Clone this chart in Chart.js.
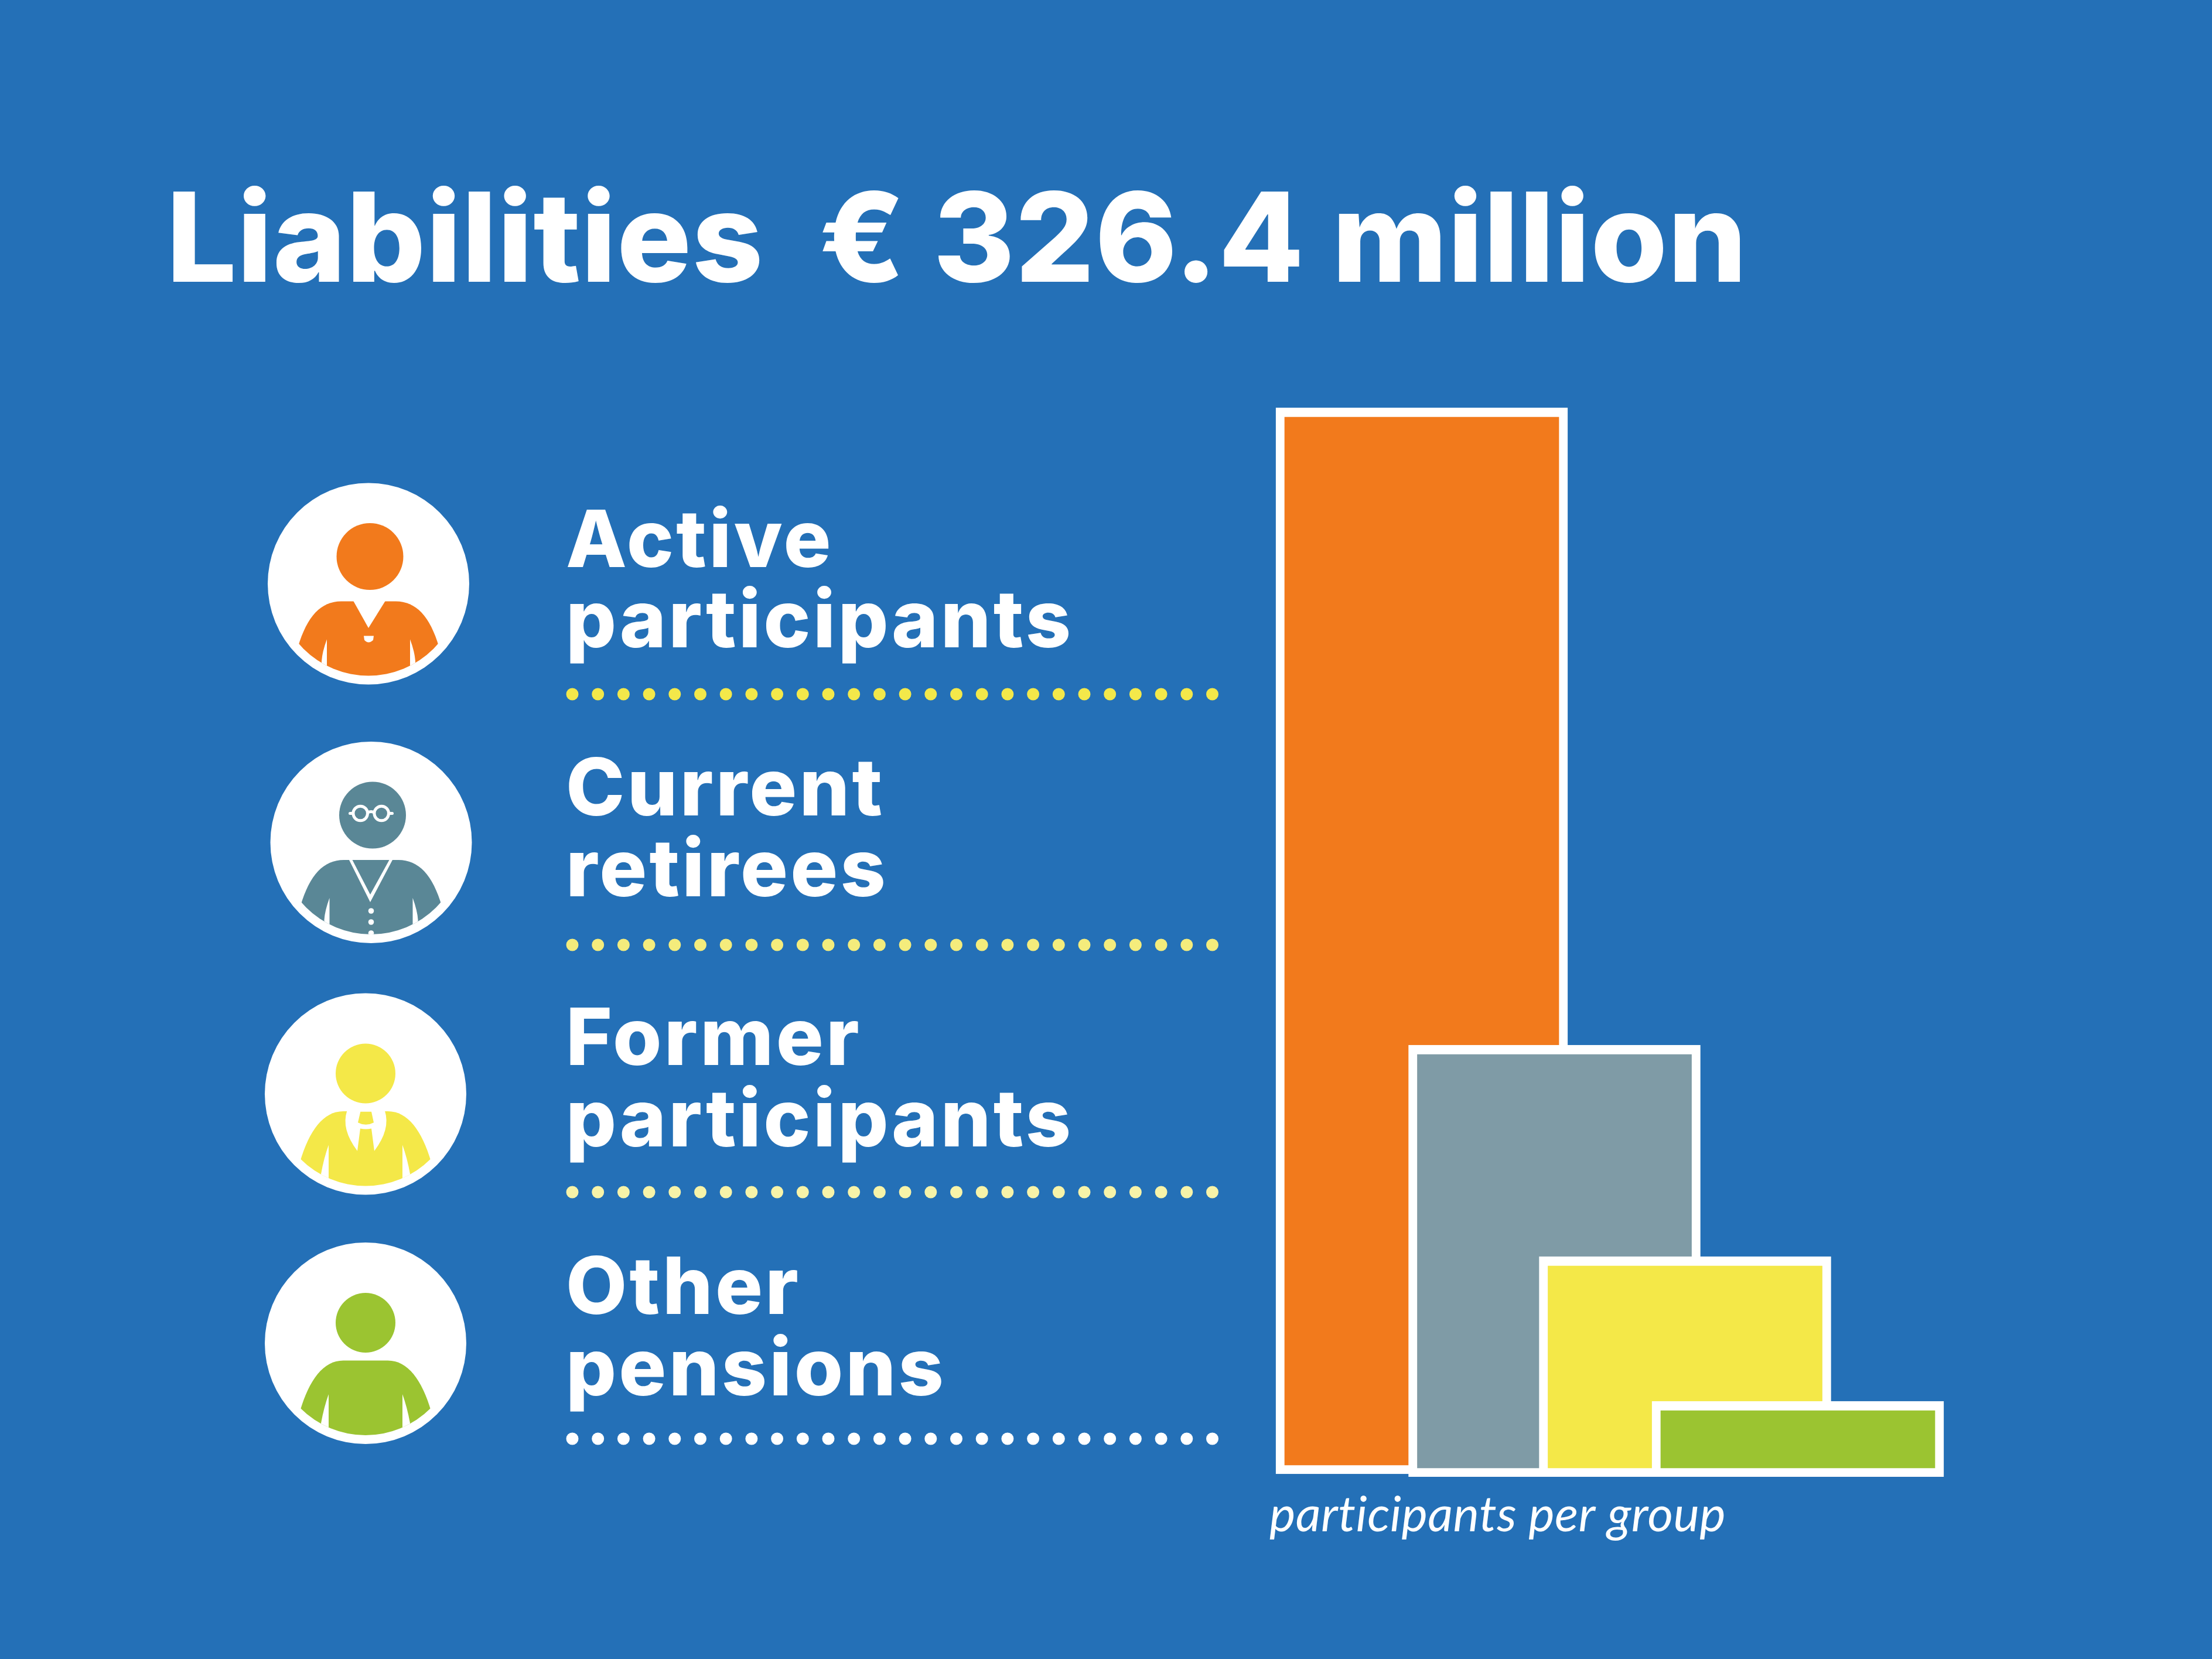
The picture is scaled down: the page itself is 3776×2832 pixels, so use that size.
<!DOCTYPE html>
<html><head><meta charset="utf-8">
<style>html,body{margin:0;padding:0;background:#2470B7}canvas{display:block}</style>
<script src="https://cdn.jsdelivr.net/npm/chart.js@4"></script>
</head><body>
<canvas id="c" width="3776" height="2832"></canvas>
<script>
const titleText = "Liabilities  € 326.4 million";
const categories = ["Active participants","Current retirees","Former participants","Other pensions"];
const categoryLines = [["Active","participants"],["Current","retirees"],["Former","participants"],["Other","pensions"]];
const axisCaption = "participants per group";
const barPositions = [260, 486.5, 709.5, 902];
const barBases = [5, 0, 0, 0];
const barTops = [1825, 737, 376, 129];
const barColors = ["#F27A1C","#7F9BA6","#F4E848","#9BC431"];
const iconColors = ["#F27A1C","#5A8796","#F4E848","#9BC431"];
const dotColors = ["#F3E84A","#F4EC7C","#F7F3A8","#FFFFFF"];

const WHITE="#FFFFFF";
const iconSpots=[[629,996.5],[633.5,1438],[624,1867.5],[624,2293]];
const iconVariant=[0,0,1,1];
const labelBaselines=[[968,1105],[1392,1530],[1818,1957],[2243,2382]];
const dotRows=[1185,1613,2035,2456];

function drawBody(ctx,v,color){
  const tipX=v?110:118.7, tipY=v?110:102.7, pitX=v?63:71, pitY=v?87:94.7, top=v?29.5:30;
  const wedgeX=v?76:80, wedgeY=v?136.5:132;
  ctx.save();
  ctx.beginPath();ctx.arc(0,0,157,0,Math.PI*2);ctx.clip();
  ctx.fillStyle=color;
  ctx.beginPath();
  ctx.moveTo(-tipX-2,tipY+6);
  ctx.bezierCurveTo(-tipX+14,tipY-48,-tipX+38,top,-tipX+72,top);
  ctx.lineTo(tipX-72,top);
  ctx.bezierCurveTo(tipX-38,top,tipX-14,tipY-48,tipX+2,tipY+6);
  ctx.lineTo(tipX+2,200);ctx.lineTo(-tipX-2,200);ctx.closePath();ctx.fill();
  ctx.fillStyle=WHITE;
  [-1,1].forEach(s=>{
    ctx.beginPath();
    ctx.moveTo(s*pitX,pitY);
    ctx.quadraticCurveTo(s*(pitX+8),pitY+22,s*wedgeX,wedgeY);
    ctx.lineTo(s*wedgeX,200);ctx.lineTo(s*pitX,200);ctx.closePath();ctx.fill();
  });
  ctx.restore();
}
function poly(ctx,pts,color){ctx.fillStyle=color;ctx.beginPath();pts.forEach((p,i)=>i?ctx.lineTo(p[0],p[1]):ctx.moveTo(p[0],p[1]));ctx.closePath();ctx.fill();}
function drawIcon(ctx,i){
  const [cx,cy]=iconSpots[i],col=iconColors[i],v=iconVariant[i];
  ctx.save();ctx.translate(cx,cy);
  ctx.fillStyle=WHITE;ctx.beginPath();ctx.arc(0,0,172,0,Math.PI*2);ctx.fill();
  drawBody(ctx,v,col);
  const hx=v?0:2.5,hy=v?-35:-46.5,hr=v?51:57;
  ctx.fillStyle=col;ctx.beginPath();ctx.arc(hx,hy,hr,0,Math.PI*2);ctx.fill();
  if(i===0){
    poly(ctx,[[-26,29],[29,29],[0,75.6]],WHITE);
    ctx.fillStyle=WHITE;ctx.beginPath();ctx.moveTo(-8,89);ctx.lineTo(9,89);ctx.lineTo(8,96);ctx.quadraticCurveTo(0,104,-7,96);ctx.closePath();ctx.fill();
  }
  if(i===1){
    poly(ctx,[[-38,29],[37,29],[-1.5,102]],WHITE);
    poly(ctx,[[-32,30],[31,30],[-1.5,89]],col);
    ctx.fillStyle=WHITE;
    [117,136].forEach(y=>{ctx.beginPath();ctx.arc(0,y,4.8,0,Math.PI*2);ctx.fill();});
    ctx.save();ctx.beginPath();ctx.arc(0,0,157,0,Math.PI*2);ctx.clip();ctx.beginPath();ctx.arc(0,155,4.8,0,Math.PI*2);ctx.fill();ctx.restore();
    ctx.strokeStyle=WHITE;ctx.lineWidth=5;ctx.lineCap="round";
    ctx.beginPath();ctx.arc(-18.3,-49.5,12.3,0,Math.PI*2);ctx.stroke();
    ctx.beginPath();ctx.arc(17.7,-49.5,12.3,0,Math.PI*2);ctx.stroke();
    ctx.beginPath();ctx.moveTo(-5.5,-51);ctx.quadraticCurveTo(0,-54,5,-51);ctx.stroke();
    ctx.beginPath();ctx.moveTo(-36,-49.5);ctx.lineTo(-31,-49.5);ctx.moveTo(30.5,-49.5);ctx.lineTo(36,-49.5);ctx.stroke();
  }
  if(i===2){
    ctx.fillStyle=WHITE;ctx.beginPath();
    ctx.moveTo(-31.7,29);ctx.quadraticCurveTo(-42,60,-14,97.2);
    ctx.lineTo(-9,58.9);ctx.quadraticCurveTo(0.5,61,10,58.9);ctx.lineTo(15,97.2);
    ctx.quadraticCurveTo(43,60,33,29);ctx.closePath();ctx.fill();
    ctx.fillStyle=col;ctx.beginPath();
    ctx.moveTo(-8.7,30.3);ctx.lineTo(10,30.3);ctx.lineTo(14,48.7);ctx.quadraticCurveTo(0.5,56,-13,48.7);ctx.closePath();ctx.fill();
  }
  ctx.restore();
}
function fitSpacing(ctx,text,width){
  ctx.letterSpacing="0px";
  const w=ctx.measureText(text).width;
  return ((width-w)/(text.length-1)).toFixed(2)+"px";
}
const decor={id:"decor",
  beforeDraw(chart){ chart.ctx.letterSpacing="0.4px"; },
  beforeDatasetsDraw(chart){
    const ctx=chart.ctx;
    ctx.save();
    ctx.fillStyle=WHITE;ctx.textBaseline="alphabetic";ctx.textAlign="left";
    ctx.font='800 212px Inter';
    ctx.letterSpacing=fitSpacing(ctx,titleText,2698);
    ctx.fillText(titleText,284,481);
    ctx.font='800 135px Inter';
    ctx.letterSpacing=fitSpacing(ctx,"participants",862);
    categoryLines.forEach((ls,i)=>{
      ls.forEach((t,j)=>ctx.fillText(t,966,labelBaselines[i][j]));
    });
    ctx.letterSpacing="0px";
    dotRows.forEach((y,i)=>{
      ctx.fillStyle=dotColors[i];
      for(let k=0;k<26;k++){ctx.beginPath();ctx.arc(977+k*43.7,y,10.5,0,Math.PI*2);ctx.fill();}
    });
    categories.forEach((c,i)=>drawIcon(ctx,i));
    ctx.restore();
  }
};
new Chart(document.getElementById("c"),{
  type:"bar",
  data:{datasets:[{
    label:"participants per group",
    data:barPositions.map((x,i)=>({x:x,y:[barBases[i],barTops[i]]})),
    backgroundColor:barColors,
    borderColor:WHITE,
    borderWidth:{top:16,left:15,right:15,bottom:15},
    borderSkipped:false,
    barThickness:498
  }]},
  options:{
    responsive:false,animation:false,
    layout:{padding:{left:2167,right:409,top:521,bottom:195}},
    plugins:{legend:{display:false},tooltip:{enabled:false},title:{display:false}},
    scales:{
      x:{type:"linear",min:0,max:1200,offset:false,
         afterFit(s){s.height=116;},
         grid:{display:false},border:{display:false},ticks:{display:false},
         title:{display:true,text:axisCaption,align:"start",color:WHITE,padding:{top:0,bottom:0},
                font:{family:"Lato",size:84,style:"italic",weight:"400"}}},
      y:{display:false,min:0,max:2000}
    }
  },
  plugins:[decor]
});
</script>
</body></html>
